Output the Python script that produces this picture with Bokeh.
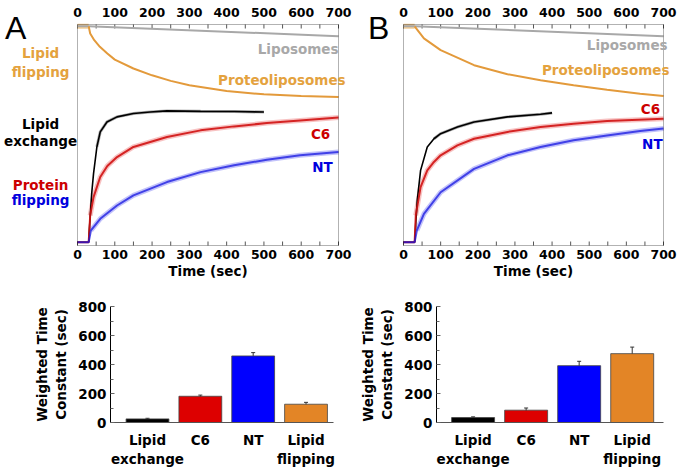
from bokeh.plotting import figure
from bokeh.models import (Range1d, Label, FixedTicker, ColumnDataSource,
                          Whisker, TeeHead, BoxAnnotation)
from bokeh.core.properties import value
from bokeh.layouts import row, column
from bokeh.embed import file_html
from bokeh.resources import INLINE

FONT = "DejaVu Sans"

# ---------------- data (normalised signal) ----------------
time_ticks = [0, 100, 200, 300, 400, 500, 600, 700]
time_minor = [50, 150, 250, 350, 450, 550, 650]

# Panel A
a_lipo_t = [0, 30, 700]
a_lipo_y = [0.992, 0.992, 0.947]
a_prot_t = [0, 30, 34, 45, 60, 80, 100, 150, 200, 250, 300, 400, 500, 600, 700]
a_prot_y = [0.992, 0.992, 0.959, 0.929, 0.899, 0.869, 0.841, 0.801, 0.770, 0.745,
            0.725, 0.699, 0.684, 0.677, 0.672]
a_exch_t = [0, 30, 31, 34, 38, 43, 52, 61, 79, 106, 150, 195, 240, 330, 420, 500]
a_exch_y = [0.015, 0.015, 0.053, 0.128, 0.234, 0.325, 0.446, 0.514, 0.559, 0.582,
            0.597, 0.604, 0.609, 0.607, 0.606, 0.604]
a_c6_t = [0, 30, 34, 43, 61, 80, 106, 150, 240, 330, 420, 508, 597, 700]
a_c6_y = [0.015, 0.015, 0.136, 0.219, 0.310, 0.360, 0.400, 0.446, 0.491, 0.521,
          0.539, 0.554, 0.566, 0.579]
a_nt_t = [0, 30, 36, 61, 106, 150, 240, 330, 420, 508, 597, 700]
a_nt_y = [0.015, 0.015, 0.068, 0.121, 0.181, 0.227, 0.287, 0.332, 0.363, 0.388,
          0.408, 0.423]

# Panel B
b_lipo_t = [0, 30, 700]
b_lipo_y = [0.992, 0.992, 0.947]
b_prot_t = [0, 30, 55, 100, 190, 280, 369, 458, 548, 637, 700]
b_prot_y = [0.992, 0.992, 0.937, 0.884, 0.816, 0.775, 0.748, 0.725, 0.705, 0.687, 0.677]
b_exch_t = [0, 30, 33, 37, 46, 64, 82, 100, 145, 190, 280, 369, 400]
b_exch_y = [0.015, 0.015, 0.100, 0.204, 0.340, 0.446, 0.483, 0.506, 0.536, 0.559,
            0.582, 0.594, 0.600]
b_c6_t = [0, 30, 33, 46, 64, 82, 100, 145, 190, 280, 369, 458, 548, 700]
b_c6_y = [0.015, 0.015, 0.136, 0.264, 0.340, 0.378, 0.408, 0.453, 0.483, 0.514,
          0.536, 0.551, 0.563, 0.574]
b_nt_t = [0, 30, 36, 55, 100, 190, 280, 369, 458, 548, 637, 700]
b_nt_y = [0.015, 0.015, 0.068, 0.143, 0.241, 0.347, 0.408, 0.446, 0.476, 0.498,
          0.518, 0.529]

# Bar charts
bar_categories = ["Lipid\nexchange", "C6", "NT", "Lipid\nflipping"]
bar_colors = ["#000000", "#DD0000", "#0000FF", "#E38526"]
a_tau = [25, 181, 459, 126]
a_err = [4, 8, 23, 13]
b_tau = [34, 85, 392, 475]
b_err = [5, 15, 30, 45]

ORANGE = "#E39A3B"
ORANGE_TXT = "#E4A23E"
RED = "#D01212"
BLUE = "#1414E0"
GRAY = "#A8A8A8"

# geometry of the top row (frame of each kinetic panel inside its canvas)
TOP_H = 290
FR_TOP, FR_BOT = 24, 245
PX_Y = FR_BOT - FR_TOP           # pixels per unit signal
Y0 = -(TOP_H - FR_BOT) / PX_Y
Y1 = 1 + FR_TOP / PX_Y
TICK = 4 / PX_Y


def add_label(p, x, y, text, color, align="center", size="13.5px", style="bold",
              font=FONT, baseline="middle"):
    p.add_layout(Label(x=x, y=y, text=text, text_color=color, text_align=align,
                       text_baseline=baseline, text_font=font,
                       text_font_size=size, text_font_style=style))


def kinetic(width, x0, x1, prot, lipo, exch, c6, nt, texts):
    p = figure(width=width, height=TOP_H, x_range=Range1d(x0, x1),
               y_range=Range1d(Y0, Y1), output_backend="svg", toolbar_location=None,
               x_axis_location=None, y_axis_location=None, min_border=0)
    p.grid.visible = False
    p.outline_line_color = None
    p.add_layout(BoxAnnotation(left=0, right=700, bottom=0, top=1, fill_alpha=0,
                               line_color="black", line_width=1))
    # ticks (inside the box, top and bottom)
    all_ticks = sorted(time_ticks + time_minor)
    n = len(all_ticks)
    p.segment(x0=all_ticks, x1=all_ticks, y0=[0] * n, y1=[TICK] * n,
              line_color="#555555", line_width=1)
    p.segment(x0=all_ticks, x1=all_ticks, y0=[1] * n, y1=[1 - TICK] * n,
              line_color="#555555", line_width=1)
    labels = [str(t) for t in time_ticks]
    m = len(time_ticks)
    for yy in (1 + 12 / PX_Y, -8.5 / PX_Y):
        p.text(x=time_ticks, y=[yy] * m, text=labels, text_font=value(FONT),
               text_font_style="bold", text_font_size="12.5px", text_color="black",
               text_align="center", text_baseline="middle")
    p.text(x=[350], y=[-25.5 / PX_Y], text=["Time (sec)"], text_font=value(FONT),
           text_font_style="bold", text_font_size="13.5px", text_color="black",
           text_align="center", text_baseline="middle")

    # pale "raw data" bands
    p.line(prot[0][:2], prot[1][:2], line_color="#F2CC96", line_width=5)
    p.line(exch[0][6:], exch[1][6:], line_color="#777777", line_width=3, line_alpha=0.6)
    p.line(c6[0][2:], c6[1][2:], line_color="#F29A9A", line_width=5, line_alpha=0.6)
    p.line(nt[0][2:], nt[1][2:], line_color="#9A9AF6", line_width=5, line_alpha=0.6)
    # fits
    p.line(lipo[0], lipo[1], line_color=GRAY, line_width=2)
    p.line(prot[0][1:], prot[1][1:], line_color=ORANGE, line_width=2)
    p.line(exch[0], exch[1], line_color="black", line_width=1.6)
    p.line(c6[0], c6[1], line_color=RED, line_width=2, line_alpha=0.9)
    p.line(nt[0], nt[1], line_color=BLUE, line_width=2, line_alpha=0.75)
    for (x, y, t, c, al) in texts:
        add_label(p, x, y, t, c, align=al)
    return p


# panel A canvas spans 0..352 px, box 77..338 px
pA = kinetic(352, -77 * 700 / 261, 700 + 14 * 700 / 261,
             (a_prot_t, a_prot_y), (a_lipo_t, a_lipo_y),
             (a_exch_t, a_exch_y), (a_c6_t, a_c6_y), (a_nt_t, a_nt_y),
             [(700, 0.891, "Liposomes", GRAY, "right"),
              (719, 0.748, "Proteoliposomes", ORANGE_TXT, "right"),
              (652, 0.506, "C6", "#CC0000", "center"),
              (657, 0.355, "NT", "#0000DD", "center"),
              (-99, 0.869, "Lipid", ORANGE_TXT, "center"),
              (-99, 0.787, "flipping", ORANGE_TXT, "center"),
              (-99, 0.548, "Lipid", "black", "center"),
              (-99, 0.471, "exchange", "black", "center"),
              (-99, 0.276, "Protein", "#CC0000", "center"),
              (-99, 0.204, "flipping", "#0000DD", "center")])
add_label(pA, -166, 0.982, "A", "black", size="32px", style="normal",
          font="Liberation Sans", baseline="alphabetic")

# panel B canvas spans 352..679 px, box 403..663 px
pB = kinetic(327, -51 * 700 / 260, 700 + 16 * 700 / 260,
             (b_prot_t, b_prot_y), (b_lipo_t, b_lipo_y),
             (b_exch_t, b_exch_y), (b_c6_t, b_c6_y), (b_nt_t, b_nt_y),
             [(711, 0.906, "Liposomes", GRAY, "right"),
              (716, 0.793, "Proteoliposomes", ORANGE_TXT, "right"),
              (665, 0.619, "C6", "#CC0000", "center"),
              (670, 0.461, "NT", "#0000DD", "center")])
add_label(pB, -67, 0.982, "B", "black", size="32px", style="normal",
          font="Liberation Sans", baseline="alphabetic")


def style_axis(ax, size="13.5px"):
    ax.major_label_text_font = FONT
    ax.major_label_text_font_style = "bold"
    ax.major_label_text_font_size = size
    ax.major_label_text_color = "black"
    ax.axis_label_text_font = FONT
    ax.axis_label_text_font_style = "bold"
    ax.axis_label_text_font_size = "13.5px"
    ax.axis_label_text_color = "black"
    ax.axis_line_color = "black"


def bars(width, bl, br, x0, x1, tau, err):
    p = figure(width=width, height=179, x_range=Range1d(x0, x1), y_range=Range1d(0, 800),
               output_backend="svg", toolbar_location=None,
               min_border_left=bl, min_border_right=br, min_border_top=16,
               min_border_bottom=38)
    p.grid.visible = False
    p.outline_line_color = None
    xs = list(range(1, len(bar_categories) + 1))
    src = ColumnDataSource(dict(x=xs, top=tau, color=bar_colors,
                                upper=[t + e for t, e in zip(tau, err)],
                                lower=[t - e for t, e in zip(tau, err)]))
    p.vbar(x="x", top="top", width=0.81, fill_color="color", line_color="#444444",
           line_width=0.8, source=src)
    p.add_layout(Whisker(source=src, base="x", upper="upper", lower="lower",
                         line_color="#333333", line_width=1,
                         upper_head=TeeHead(size=4, line_color="#333333", line_width=1),
                         lower_head=TeeHead(size=4, line_color="#333333", line_width=1)))
    style_axis(p.xaxis[0])
    style_axis(p.yaxis[0])
    p.xaxis.ticker = FixedTicker(ticks=xs)
    p.xaxis.major_label_overrides = {x: c for x, c in zip(xs, bar_categories)}
    p.xaxis.major_tick_line_color = None
    p.xaxis.minor_tick_line_color = None
    p.xaxis.axis_line_color = "#555555"
    p.xaxis.major_label_standoff = 3
    p.yaxis.ticker = FixedTicker(ticks=[0, 200, 400, 600, 800],
                                 minor_ticks=[100, 300, 500, 700])
    p.yaxis.major_tick_in = 4
    p.yaxis.major_tick_out = 0
    p.yaxis.minor_tick_in = 3
    p.yaxis.minor_tick_out = 0
    p.yaxis.major_tick_line_color = "#666666"
    p.yaxis.minor_tick_line_color = "#666666"
    p.yaxis.major_label_standoff = 4
    p.yaxis.axis_label = "Weighted Time\nConstant (sec)"
    p.yaxis.axis_label_standoff = 6
    return p


bA = bars(348, 110, 15, 0.30, 4.52, a_tau, a_err)
bB = bars(331, 88, 16, 0.31, 4.59, b_tau, b_err)

layout = column(row(pA, pB, spacing=0), row(bA, bB, spacing=0), spacing=0)

with open("out.html", "w") as f:
    f.write(file_html(layout, INLINE))
